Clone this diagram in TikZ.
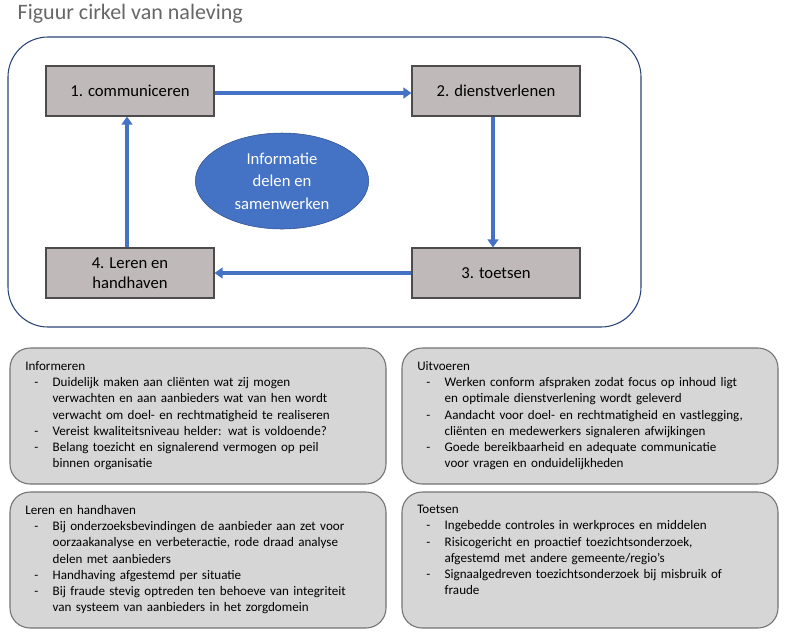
\documentclass[tikz,border=0pt]{standalone}
\usepackage{fontspec}
\setmainfont{Carlito}
\usetikzlibrary{arrows.meta,shapes.geometric}
\definecolor{myblue}{HTML}{4472C4}
\definecolor{boxgray}{HTML}{BFB9B9}
\definecolor{lightg}{HTML}{D6D6D6}
\newcommand{\nl}{\hfil\break}
\newcommand{\itm}[1]{\par\noindent\hangindent=2.1em\hangafter=1\makebox[2.1em][l]{\hspace{0.7em}-}#1}
\begin{document}
\begin{tikzpicture}[x=0.75pt,y=-0.75pt,
  cbox/.style={draw=black!70,fill=boxgray,line width=0.8pt,minimum width=126pt,minimum height=37.5pt,font=\fontsize{12.5}{15}\selectfont,align=center},
  ibox/.style={draw=black!55,fill=lightg,rounded corners=15pt,line width=0.8pt},
  itxt/.style={anchor=north west,text width=270pt,font=\fontsize{9.8}{12.2}\selectfont,inner sep=0pt},
  arr/.style={myblue,line width=2.6pt,-{Triangle[length=6pt,width=8pt]}}]
\useasboundingbox (0,0) rectangle (785,637);
\node[anchor=west,text=black!60,font=\fontsize{16.5}{20}\selectfont] (title) at (13,14) {Figuur cirkel van naleving};
\draw[myblue!60!black,line width=0.8pt,rounded corners=30pt] (8,37) rectangle (641,327);
\node[cbox] (c1) at (130,91) {1. communiceren};
\node[cbox] (c2) at (496,91) {2. dienstverlenen};
\node[cbox] (c3) at (496,273) {3. toetsen};
\node[cbox] (c4) at (130,273) {4. Leren en\\handhaven};
\node[ellipse,draw=myblue!70!black,fill=myblue,minimum width=130pt,minimum height=72pt,text=white,align=center,font=\fontsize{12.5}{17}\selectfont] (e) at (282,181) {Informatie\\delen en\\samenwerken};
\draw[arr] (c1.east|-0,93) -- (c2.west|-0,93);
\draw[arr] (c2.south-|493,0) -- (c3.north-|493,0);
\draw[arr] (c3.west|-0,273) -- (c4.east|-0,273);
\draw[arr] (c4.north-|127,0) -- (c1.south-|127,0);
\draw[ibox] (10,348) rectangle (386,484);
\draw[ibox] (402,348) rectangle (778,484);
\draw[ibox] (10,492) rectangle (386,628);
\draw[ibox] (402,492) rectangle (778,628);
\node[itxt] (t1) at (25,361) {\raggedright Informeren
\itm{Duidelijk maken aan cliënten wat zij mogen\nl verwachten en aan aanbieders wat van hen wordt\nl verwacht om doel- en rechtmatigheid te realiseren}
\itm{Vereist kwaliteitsniveau helder: wat is voldoende?}
\itm{Belang toezicht en signalerend vermogen op peil\nl binnen organisatie}\par};
\node[itxt] (t2) at (417,361) {\raggedright Uitvoeren
\itm{Werken conform afspraken zodat focus op inhoud ligt\nl en optimale dienstverlening wordt geleverd}
\itm{Aandacht voor doel- en rechtmatigheid en vastlegging,\nl cliënten en medewerkers signaleren afwijkingen}
\itm{Goede bereikbaarheid en adequate communicatie\nl voor vragen en onduidelijkheden}\par};
\node[itxt] (t3) at (25,505) {\raggedright Leren en handhaven
\itm{Bij onderzoeksbevindingen de aanbieder aan zet voor\nl oorzaakanalyse en verbeteractie, rode draad analyse\nl delen met aanbieders}
\itm{Handhaving afgestemd per situatie}
\itm{Bij fraude stevig optreden ten behoeve van integriteit\nl van systeem van aanbieders in het zorgdomein}\par};
\node[itxt] (t4) at (417,505) {\raggedright Toetsen
\itm{Ingebedde controles in werkproces en middelen}
\itm{Risicogericht en proactief toezichtsonderzoek,\nl afgestemd met andere gemeente/regio’s}
\itm{Signaalgedreven toezichtsonderzoek bij misbruik of\nl fraude}\par};
\end{tikzpicture}
\end{document}
